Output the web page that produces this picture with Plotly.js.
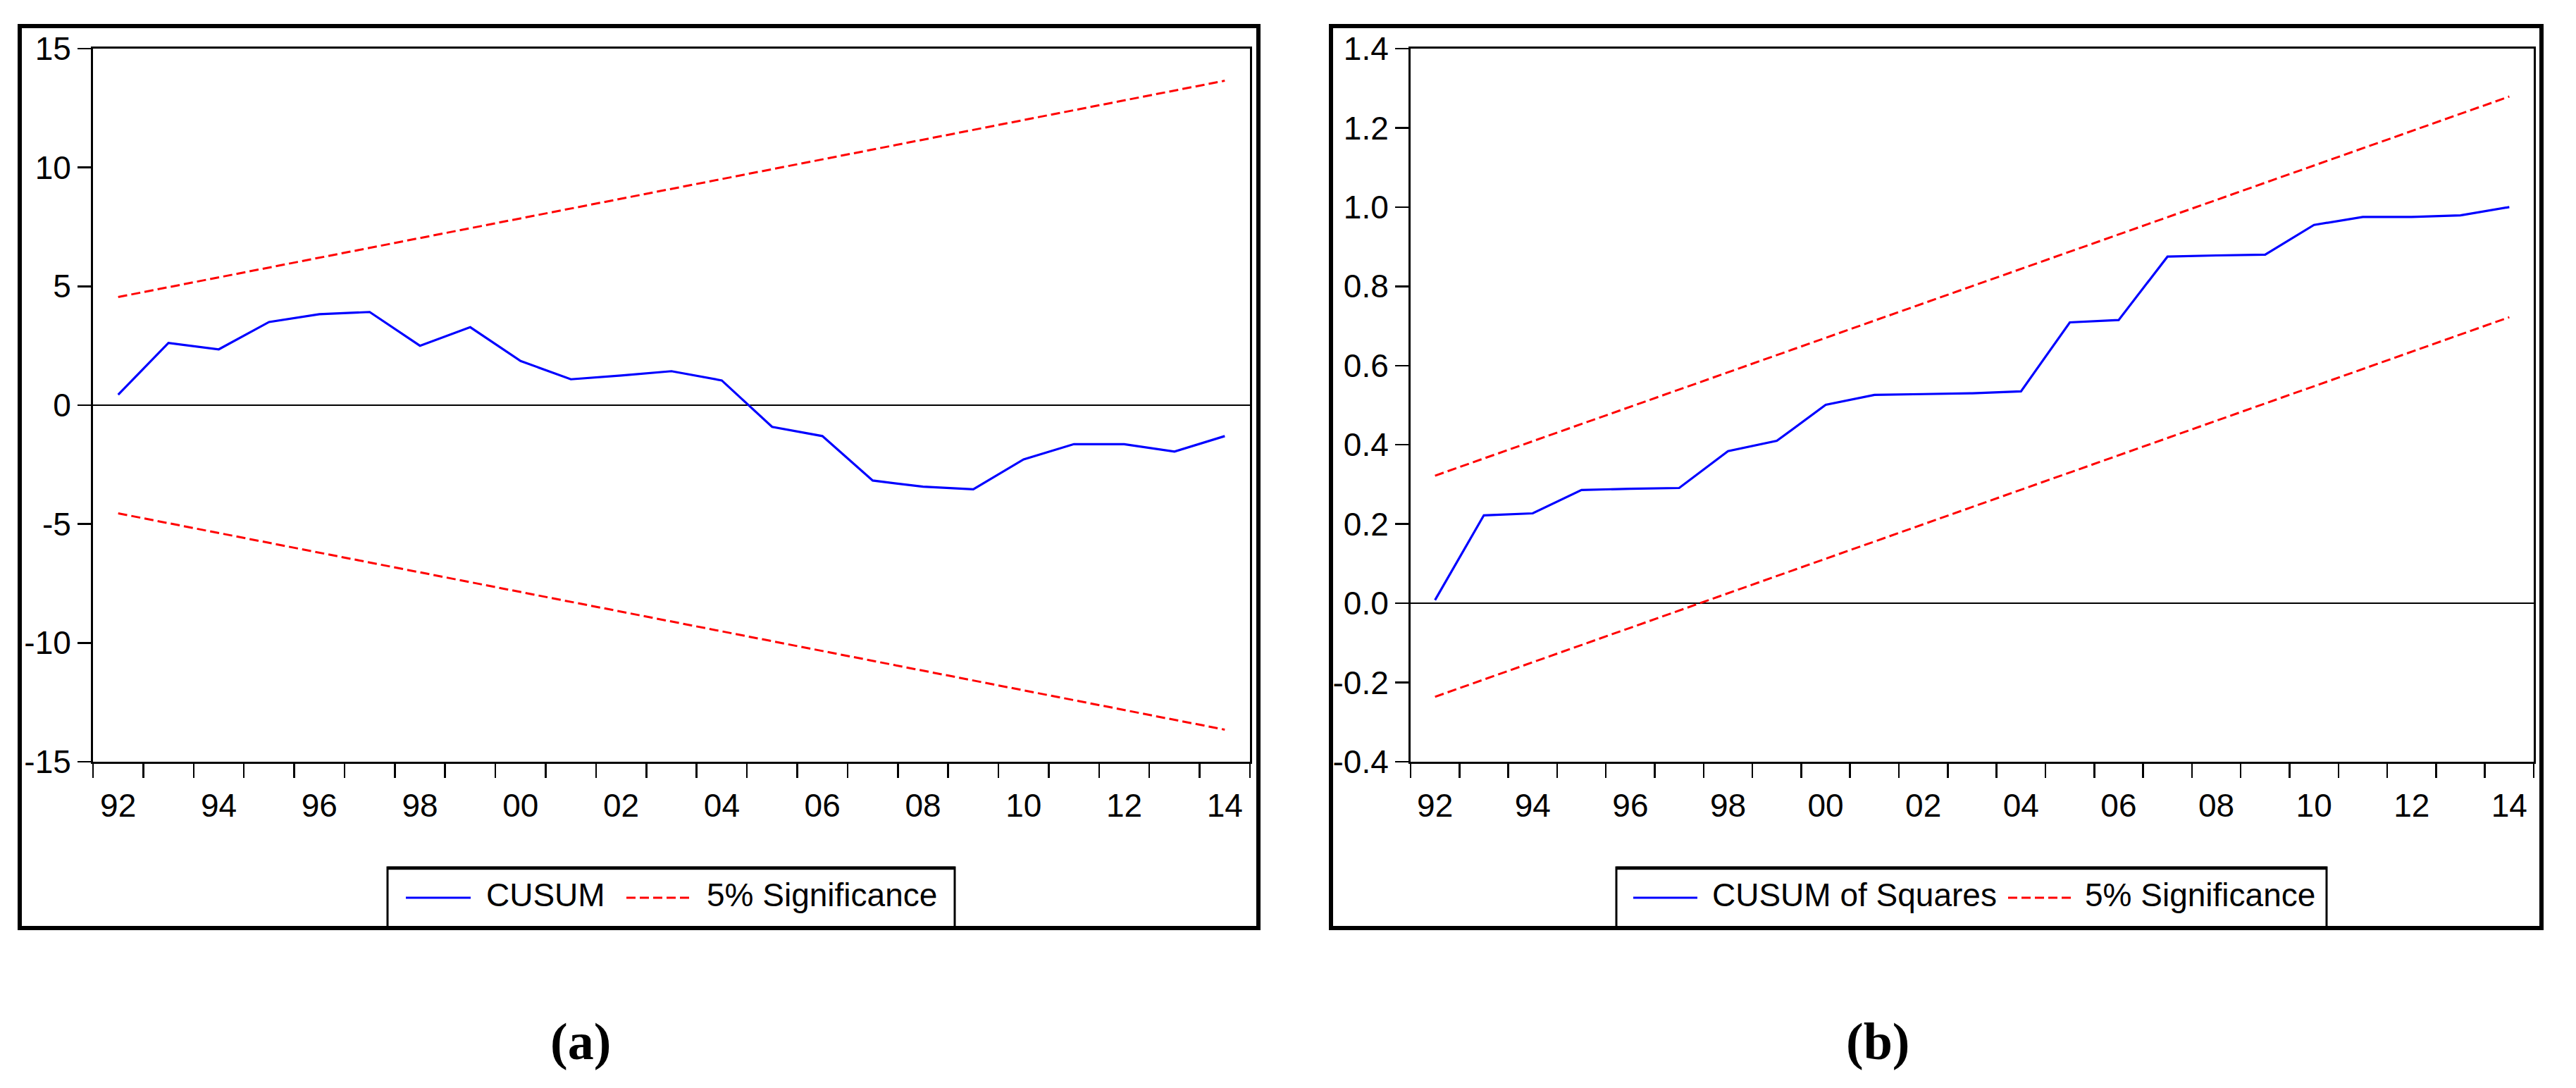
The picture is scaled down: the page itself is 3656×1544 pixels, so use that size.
<!DOCTYPE html>
<html>
<head>
<meta charset="utf-8">
<script src="https://cdn.plot.ly/plotly-3.0.1.min.js"></script>
<style>html,body{margin:0;padding:0;background:#fff;}#chart{width:3656px;height:1544px;}</style>
</head>
<body>
<div id="chart"></div>
<script>
// ---- data ----
const years = [1992,1993,1994,1995,1996,1997,1998,1999,2000,2001,2002,2003,2004,2005,2006,2007,2008,2009,2010,2011,2012,2013,2014];
const cusum = [0.44,2.62,2.35,3.50,3.83,3.92,2.50,3.28,1.86,1.09,1.25,1.43,1.04,-0.91,-1.30,-3.17,-3.43,-3.54,-2.28,-1.64,-1.64,-1.95,-1.30];
const cusumSq = [0.008,0.222,0.227,0.286,0.289,0.291,0.384,0.410,0.501,0.526,0.528,0.530,0.535,0.709,0.715,0.875,0.878,0.880,0.955,0.975,0.975,0.979,1.000];
const boundYears = [1992, 2014];
const upperA = [4.55, 13.65];
const lowerA = [-4.55, -13.65];
const upperB = [0.322, 1.279];
const lowerB = [-0.236, 0.722];
const xTickVals = [1992,1994,1996,1998,2000,2002,2004,2006,2008,2010,2012,2014];
const xTickText = ['92','94','96','98','00','02','04','06','08','10','12','14'];
const yTickValsA = [-15,-10,-5,0,5,10,15];
const yTickTextA = ['-15','-10','-5','0','5','10','15'];
const yTickValsB = [-0.4,-0.2,0.0,0.2,0.4,0.6,0.8,1.0,1.2,1.4];
const yTickTextB = ['-0.4','-0.2','0.0','0.2','0.4','0.6','0.8','1.0','1.2','1.4'];
const seriesNamesA = ['CUSUM', '5% Significance'];
const seriesNamesB = ['CUSUM of Squares', '5% Significance'];
const captions = ['(a)', '(b)'];

// ---- layout helpers ----
const W = 3656, H = 1544;
const px = x => x / W;
const py = y => 1 - y / H;
const FONT = 'Liberation Sans, Arial, sans-serif';
const BLUE = '#0000FF', RED = '#FF0000';
const DASH = '13px,6px';
const FS = 46;

function xAxis(l, r) {
  return {
    domain: [px(l), px(r)], range: [1991.5, 2014.5],
    tickmode: 'array', tickvals: xTickVals, ticktext: xTickText,
    ticks: 'outside', ticklen: 20, tickwidth: 2.5, tickcolor: 'rgba(0,0,0,0)',
    minor: {tick0: 1991.5, dtick: 1, ticks: 'outside', ticklen: 20, tickwidth: 2.5, tickcolor: '#000', showgrid: false},
    showline: true, mirror: true, linewidth: 3, linecolor: '#000',
    showgrid: false, zeroline: false, fixedrange: true,
    tickfont: {family: FONT, size: FS, color: '#000'}
  };
}
function yAxis(range, vals, text) {
  return {
    domain: [py(1081), py(69)], range: range,
    tickmode: 'array', tickvals: vals, ticktext: text,
    ticks: 'outside', ticklen: 19, tickwidth: 2.5, tickcolor: '#000',
    showline: true, mirror: true, linewidth: 3, linecolor: '#000',
    showgrid: false, zeroline: true, zerolinecolor: '#000', zerolinewidth: 1.5, fixedrange: true,
    tickfont: {family: FONT, size: FS, color: '#000'}
  };
}

const traces = [
  {x: years, y: cusum, xaxis: 'x', yaxis: 'y', mode: 'lines', name: seriesNamesA[0], line: {color: BLUE, width: 3.2}},
  {x: boundYears, y: upperA, xaxis: 'x', yaxis: 'y', mode: 'lines', name: seriesNamesA[1], line: {color: RED, width: 3, dash: DASH}},
  {x: boundYears, y: lowerA, xaxis: 'x', yaxis: 'y', mode: 'lines', name: seriesNamesA[1], line: {color: RED, width: 3, dash: DASH}},
  {x: years, y: cusumSq, xaxis: 'x2', yaxis: 'y2', mode: 'lines', name: seriesNamesB[0], line: {color: BLUE, width: 3.2}},
  {x: boundYears, y: upperB, xaxis: 'x2', yaxis: 'y2', mode: 'lines', name: seriesNamesB[1], line: {color: RED, width: 3, dash: DASH}},
  {x: boundYears, y: lowerB, xaxis: 'x2', yaxis: 'y2', mode: 'lines', name: seriesNamesB[1], line: {color: RED, width: 3, dash: DASH}}
];

const shapes = [];
const annotations = [];
function rect(x0, y0, x1, y1, w) {
  shapes.push({type: 'rect', xref: 'paper', yref: 'paper', x0: px(x0), x1: px(x1), y0: py(y1), y1: py(y0),
               line: {color: '#000', width: w}, fillcolor: 'rgba(0,0,0,0)', layer: 'above'});
}
function hline(x0, x1, y, w) {
  shapes.push({type: 'line', xref: 'paper', yref: 'paper', x0: px(x0), x1: px(x1), y0: py(y), y1: py(y),
               line: {color: '#000', width: w}, layer: 'above'});
}
function sample(x0, x1, y, color, dash) {
  shapes.push({type: 'line', xref: 'paper', yref: 'paper', x0: px(x0), x1: px(x1), y0: py(y), y1: py(y),
               line: {color: color, width: 3, dash: dash}, layer: 'above'});
}
function label(x, y, text) {
  annotations.push({xref: 'paper', yref: 'paper', x: px(x), y: py(y), xanchor: 'left', yanchor: 'middle',
                    text: text, showarrow: false, font: {family: FONT, size: FS, color: '#000'}});
}
// outer frames
rect(28, 37, 1786, 1317, 6);
rect(1889, 37, 3607, 1317, 6);
// legend boxes (top edge drawn heavier as in the reference)
rect(550, 1231, 1355, 1317, 3);
hline(550, 1355, 1232, 4.5);
rect(2294, 1231, 3302, 1317, 3);
hline(2294, 3302, 1232, 4.5);
// legend a
sample(576, 668, 1274, BLUE, 'solid');
label(688, 1270, seriesNamesA[0]);
sample(889, 982, 1274, RED, DASH);
label(1001, 1270, seriesNamesA[1]);
// legend b
sample(2318, 2409, 1274, BLUE, 'solid');
label(2428, 1270, seriesNamesB[0]);
sample(2850, 2941, 1274, RED, DASH);
label(2957, 1270, seriesNamesB[1]);
// captions
annotations.push({xref: 'paper', yref: 'paper', x: px(824), y: py(1478), xanchor: 'center', yanchor: 'middle',
  text: '<b>' + captions[0] + '</b>', showarrow: false, font: {family: 'Liberation Serif, Times New Roman, serif', size: 74, color: '#000'}});
annotations.push({xref: 'paper', yref: 'paper', x: px(2665), y: py(1478), xanchor: 'center', yanchor: 'middle',
  text: '<b>' + captions[1] + '</b>', showarrow: false, font: {family: 'Liberation Serif, Times New Roman, serif', size: 74, color: '#000'}});

const layout = {
  width: W, height: H,
  margin: {l: 0, r: 0, t: 0, b: 0, pad: 0},
  paper_bgcolor: '#fff', plot_bgcolor: '#fff',
  showlegend: false,
  xaxis: xAxis(132, 1774),
  yaxis: yAxis([-15, 15], yTickValsA, yTickTextA),
  xaxis2: xAxis(2002, 3596),
  yaxis2: yAxis([-0.4, 1.4], yTickValsB, yTickTextB),
  shapes: shapes,
  annotations: annotations
};
layout.xaxis2.anchor = 'y2';
layout.yaxis2.anchor = 'x2';

Plotly.newPlot('chart', traces, layout, {staticPlot: true, displayModeBar: false});
</script>
</body>
</html>
